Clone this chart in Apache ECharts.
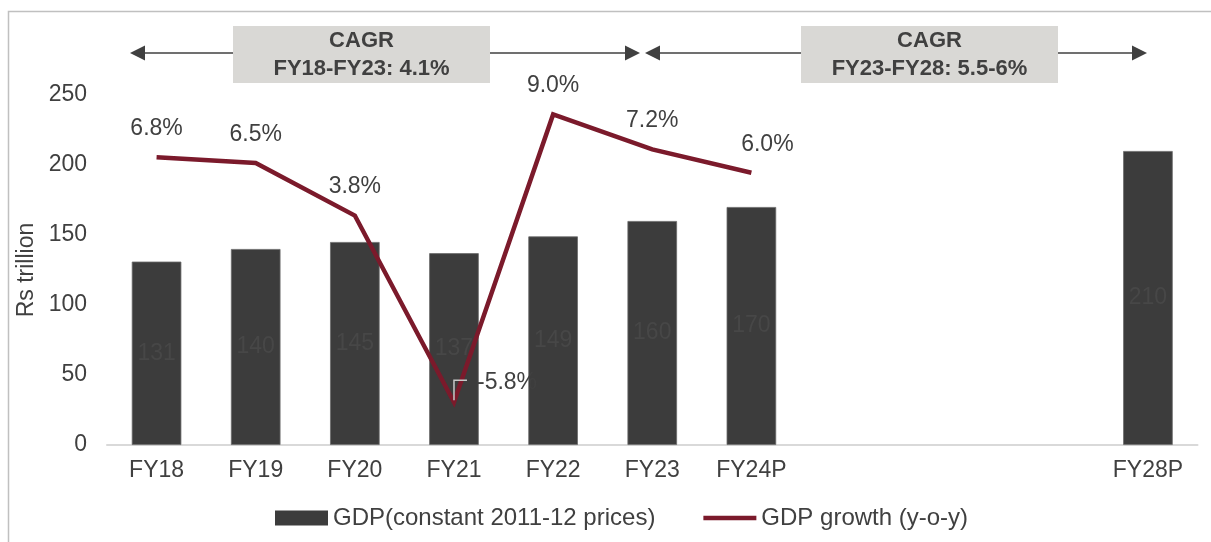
<!DOCTYPE html>
<html><head><meta charset="utf-8">
<script src="https://cdn.jsdelivr.net/npm/echarts@6/dist/echarts.min.js"></script>
<style>html,body{margin:0;padding:0;background:#fff}#c{width:1211px;height:542px}</style>
</head><body><div id="c"></div>
<script>
const categories = ['FY18','FY19','FY20','FY21','FY22','FY23','FY24P','','','','FY28P'];
const gdpValues = [131,140,145,137,149,160,170,null,null,null,210];
const growthValues = [6.8,6.5,3.8,-5.8,9.0,7.2,6.0,null,null,null,null];
const yTicks = [0,50,100,150,200,250];
const cagrTitles = ['CAGR','CAGR'];
const cagrTexts = ['FY18-FY23: 4.1%','FY23-FY28: 5.5-6%'];
const seriesNames = ['GDP(constant 2011-12 prices)','GDP growth (y-o-y)'];
const yAxisName = 'Rs trillion';

const FONT = "'Liberation Sans', Arial, sans-serif";
const TXT = '#404040';
const LINE_COLOR = '#7b1a2b';
const BAR_COLOR = '#3c3c3c';

const growthData = growthValues.map((v, i) => {
  if (v === null) return null;
  if (categories[i] === 'FY24P') return { value: v, label: { offset: [16, 0] } };
  if (v < 0) return { value: v, label: { position: 'right', distance: 23, offset: [0, -20] } };
  return v;
});

const chart = echarts.init(document.getElementById('c'), null, { renderer: 'canvas' });

function arrowGroup(x1, x2, y) {
  return [
    { type: 'line', shape: { x1: x1 + 12, y1: y, x2: x2 - 12, y2: y }, style: { stroke: '#404040', lineWidth: 1.5 }, z: 10 },
    { type: 'polygon', shape: { points: [[x1, y], [x1 + 15, y - 7.5], [x1 + 15, y + 7.5]] }, style: { fill: '#404040' }, z: 10 },
    { type: 'polygon', shape: { points: [[x2, y], [x2 - 15, y - 7.5], [x2 - 15, y + 7.5]] }, style: { fill: '#404040' }, z: 10 }
  ];
}
function box(x, y, w, h, t1, t2) {
  return [
    { type: 'rect', shape: { x: x, y: y, width: w, height: h }, style: { fill: '#d9d8d5' }, z: 11 },
    { type: 'text', x: x + w / 2, y: y + 15, style: { text: t1, font: 'bold 22px ' + FONT, fill: TXT, align: 'center', verticalAlign: 'middle' }, z: 12 },
    { type: 'text', x: x + w / 2, y: y + 43, style: { text: t2, font: 'bold 22px ' + FONT, fill: TXT, align: 'center', verticalAlign: 'middle' }, z: 12 }
  ];
}

const baseGraphics = [
  { type: 'rect', shape: { x: 8.5, y: 11.5, width: 1400, height: 800 }, style: { fill: 'none', stroke: '#c0c0c0', lineWidth: 1.5 }, z: 0, silent: true }
]
.concat(arrowGroup(130, 640, 53))
.concat(arrowGroup(645, 1147, 53))
.concat(box(233, 26, 257, 57, cagrTitles[0], cagrTexts[0]))
.concat(box(801, 26, 257, 57, cagrTitles[1], cagrTexts[1]));

const option = {
  animation: false,
  backgroundColor: '#fff',
  textStyle: { fontFamily: FONT },
  grid: { left: 107, right: 13.5, top: 95, bottom: 97, containLabel: false },
  legend: {
    left: 270, top: 501,
    itemWidth: 53, itemHeight: 15, itemGap: 48,
    symbolKeepAspect: true,
    textStyle: { fontSize: 24, color: TXT, fontFamily: FONT },
    data: [
      { name: seriesNames[0], icon: 'rect', itemStyle: { borderWidth: 0 } },
      { name: seriesNames[1], icon: 'path://M0,0 H56 V5 H0 Z' }
    ]
  },
  xAxis: {
    type: 'category',
    data: categories,
    axisLine: { show: true, lineStyle: { color: '#d9d9d9', width: 2 } },
    axisTick: { show: false },
    axisLabel: { color: TXT, fontSize: 23, margin: 14, interval: 0, fontFamily: FONT }
  },
  yAxis: [
    {
      type: 'value', min: yTicks[0], max: yTicks[yTicks.length - 1], interval: 50,
      name: yAxisName, nameLocation: 'middle', nameGap: 62, nameRotate: 90,
      nameTextStyle: { fontSize: 23, color: TXT, fontFamily: FONT },
      axisLine: { show: false }, axisTick: { show: false }, splitLine: { show: false },
      axisLabel: { color: TXT, fontSize: 23, margin: 20, fontFamily: FONT }
    },
    {
      type: 'value', min: -8, max: 10, show: false, splitLine: { show: false }
    }
  ],
  series: [
    {
      name: seriesNames[0], type: 'bar', data: gdpValues, barWidth: '50%',
      itemStyle: { color: BAR_COLOR, borderColor: '#6a6a6a', borderWidth: 0.8 },
      label: { show: true, position: 'inside', color: '#474747', fontSize: 23, fontFamily: FONT },
      z: 2
    },
    {
      name: seriesNames[1], type: 'line', yAxisIndex: 1, data: growthData,
      symbol: 'circle', symbolSize: 0.01, showSymbol: true, connectNulls: false,
      lineStyle: { color: LINE_COLOR, width: 4.5, join: 'miter' },
      itemStyle: { color: LINE_COLOR },
      label: { show: true, position: 'top', distance: 17, color: TXT, fontSize: 23, fontFamily: FONT,
        formatter: p => Number(p.value).toFixed(1) + '%' },
      z: 3
    }
  ],
  graphic: baseGraphics
};
chart.setOption(option);

// Leader line for the negative label (Excel-style), anchored to the data point
const negIdx = growthValues.findIndex(v => v !== null && v < 0);
const pt = chart.convertToPixel({ xAxisIndex: 0, yAxisIndex: 1 }, [negIdx, growthValues[negIdx]]);
chart.setOption({
  graphic: baseGraphics.concat([
    { type: 'polyline', shape: { points: [[pt[0], pt[1] - 2], [pt[0], pt[1] - 22], [pt[0] + 13, pt[1] - 22]] },
      style: { stroke: '#c8c8c8', lineWidth: 1.5, fill: 'none' }, z: 20 }
  ])
});
</script></body></html>
